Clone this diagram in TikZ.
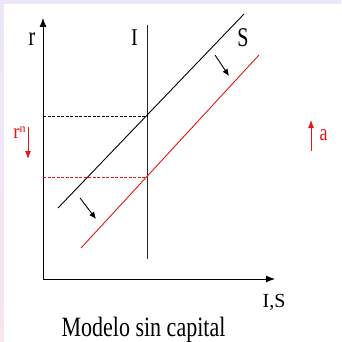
\documentclass[tikz,border=0pt]{standalone}
\usepackage{fontspec}
\setmainfont{Liberation Serif}
\usetikzlibrary{arrows.meta}
\definecolor{lav}{RGB}{236,230,248}
\definecolor{pinkband}{RGB}{248,230,240}
\definecolor{myred}{RGB}{228,22,22}
\begin{document}
\begin{tikzpicture}[x=1pt,y=-1pt,
  axis/.style={line width=0.9pt,-{Latex[length=9pt,width=7pt]}},
  curve/.style={line width=0.9pt},
  shiftarrow/.style={line width=0.9pt,-{Latex[length=7pt,width=6pt]}},
  redarrow/.style={line width=0.9pt,myred,-{Latex[length=8pt,width=6pt]}},
  lbl/.style={inner sep=0pt,anchor=base,font=\fontsize{20}{20}\selectfont}]
\useasboundingbox (0,0) rectangle (341,342);
\fill[lav] (0,0) rectangle (341,342);
\shade[top color=lav,bottom color=pinkband] (0,4.5) rectangle (3.5,342);
\fill[white] (3.5,4.5) rectangle (341,342);
% coordinates
\coordinate (O) at (43,279);
\coordinate (ytop) at (43,18);
\coordinate (xend) at (275,279);
\coordinate (Itop) at (147,25);
\coordinate (Ibot) at (147,259);
\coordinate (Sa) at (58,208);
\coordinate (Sb) at (244,14);
\coordinate (Ra) at (81,248);
\coordinate (Rb) at (259,55);
\coordinate (E1) at (147,116);
\coordinate (E1y) at (43,116);
\coordinate (E2) at (147,177);
\coordinate (E2y) at (43,177);
\coordinate (a1) at (215,55);
\coordinate (a2) at (229,76);
\coordinate (b1) at (80,198);
\coordinate (b2) at (96,219);
\coordinate (rn1) at (28,127);
\coordinate (rn2) at (28,159);
\coordinate (ra1) at (311,151);
\coordinate (ra2) at (311,120);
% axes
\draw[axis] (O) -- (ytop);
\draw[axis] (O) -- (xend);
% I line
\draw[curve,black!85] (Itop) -- (Ibot);
% S lines
\draw[curve] (Sa) -- (Sb);
\draw[curve,myred] (Ra) -- (Rb);
% dashed
\draw[line width=0.8pt,dash pattern=on 3pt off 1.5pt] (E1y) -- (E1);
\draw[line width=0.5pt,myred,dash pattern=on 3pt off 1.5pt] (E2y) -- (E2);
% shift arrows
\draw[shiftarrow] (a1) -- (a2);
\draw[shiftarrow] (b1) -- (b2);
\draw[redarrow] (rn1) -- (rn2);
\draw[redarrow] (ra1) -- (ra2);
% labels
\node[lbl] (rlab) at (32,46) {\scalebox{1}[1.35]{r}};
\node[lbl] (Ilab) at (134.5,46) {\scalebox{1}[1.2]{I}};
\node[lbl] (Slab) at (243,47) {\scalebox{1}[1.35]{S}};
\node[lbl,myred,font=\fontsize{19}{19}\selectfont] (rnlab) at (19.5,138) {\scalebox{1}[1.1]{r}\raisebox{6pt}{\fontsize{12}{12}\selectfont n}};
\node[lbl,myred,font=\fontsize{18}{18}\selectfont] (alab) at (323.5,140) {\scalebox{1}[1.3]{a}};
\node[lbl,font=\fontsize{20}{20}\selectfont] (ISlab) at (274,307) {I,S};
\node[lbl,font=\fontsize{22}{22}\selectfont] (title) at (143.5,336.5) {\scalebox{1}[1.27]{Modelo sin capital}};
\end{tikzpicture}
\end{document}
